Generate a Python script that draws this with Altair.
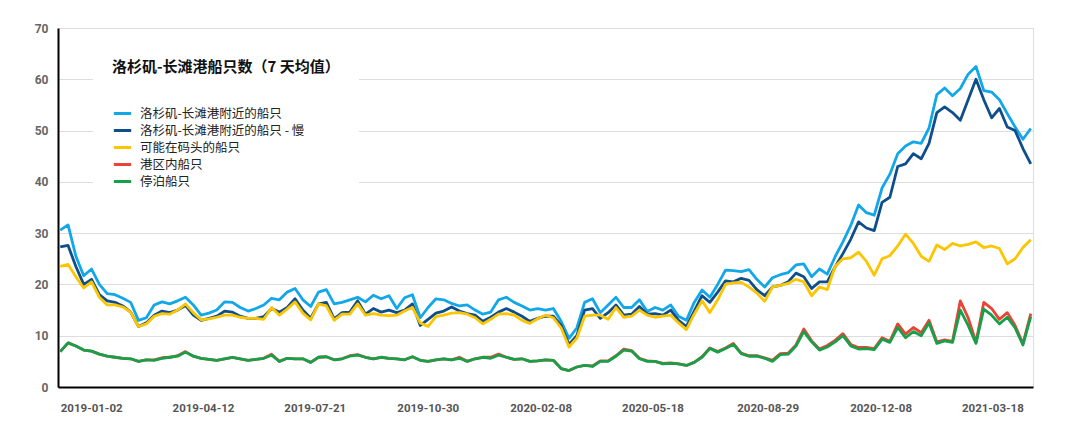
import altair as alt
import pandas as pd

# weekly samples starting 2019-01-02
start_date = "2019-01-02"
n_points = 125

series_names = [
    "洛杉矶-长滩港附近的船只",
    "洛杉矶-长滩港附近的船只 - 慢",
    "可能在码头的船只",
    "港区内船只",
    "停泊船只",
]
series_colors = ["#12a7e8", "#0e4f8b", "#fdc500", "#ea4335", "#17a04a"]

near_port = [
    30.6, 31.6, 25.5, 21.7, 23.0, 20.0, 18.2, 18.0, 17.3, 16.5,
    13.0, 13.5, 16.0, 16.6, 16.2, 16.8, 17.5, 16.0, 14.0, 14.4,
    15.0, 16.6, 16.5, 15.5, 14.8, 15.3, 16.0, 17.3, 17.0, 18.5,
    19.2, 17.0, 15.7, 18.5, 19.0, 16.2, 16.5, 17.0, 17.5, 16.6,
    17.9, 17.2, 17.8, 15.3, 17.4, 18.0, 13.5, 15.5, 17.2, 17.0,
    16.3, 15.8, 16.0, 15.0, 14.2, 14.6, 17.0, 17.5, 16.5, 15.8,
    15.0, 15.3, 15.0, 15.3, 12.8, 9.5, 11.5, 16.5, 17.2, 14.5,
    16.0, 17.5, 15.5, 15.5, 17.0, 14.7, 15.5, 15.0, 16.0, 13.8,
    13.0, 16.5, 18.9, 17.5, 20.0, 22.8, 22.7, 22.5, 22.9, 21.0,
    19.5, 21.3, 21.9, 22.3, 23.8, 24.0, 21.5, 23.0, 22.0, 25.4,
    28.3, 31.5, 35.5, 34.0, 33.5, 38.8, 41.5, 45.5, 47.0, 47.8,
    47.5, 50.5, 57.0, 58.3, 56.8, 58.2, 61.0, 62.5, 57.8, 57.5,
    56.0, 53.3, 50.7, 48.3, 50.4,
]

near_port_slow = [
    27.3, 27.6, 23.5, 20.0, 21.0, 18.0, 16.8, 16.5, 15.8, 14.6,
    11.8, 12.5, 14.0, 14.8, 14.5, 15.0, 15.9, 14.0, 13.0, 13.4,
    13.8, 14.8, 14.6, 13.8, 13.4, 13.4, 13.7, 15.3, 14.6, 15.5,
    17.2, 15.0, 13.4, 16.2, 16.5, 13.3, 14.5, 14.6, 16.8, 14.2,
    15.3, 14.6, 15.0, 14.5, 15.0, 16.2, 12.0, 13.2, 14.4, 14.8,
    15.6, 14.8, 14.3, 14.0, 12.8, 13.6, 14.6, 15.3, 14.6, 13.8,
    12.8, 13.4, 13.8, 13.8, 12.0, 8.3, 10.0, 15.0, 15.3, 13.4,
    14.5, 16.0, 14.0, 14.2, 15.7, 14.2, 14.3, 14.0, 15.0, 13.0,
    11.8, 14.8, 17.8, 16.5, 18.5, 20.7, 20.5, 21.2, 20.8, 19.0,
    17.8, 19.5, 19.8, 20.5, 22.2, 21.5, 19.2, 20.5, 20.5, 23.4,
    26.0, 28.8, 32.2, 31.0, 30.5, 36.0, 37.0, 43.0, 43.5, 45.5,
    44.5, 47.5, 53.5, 54.6, 53.5, 52.0, 56.0, 60.0, 56.0, 52.5,
    54.3, 50.7, 50.0, 46.5, 43.5,
]

at_berth = [
    23.5, 23.9, 21.5, 19.3, 20.5, 17.5, 16.0, 16.0, 15.6, 14.6,
    11.8, 12.3, 13.8, 14.3, 14.2, 15.0, 16.2, 14.5, 13.1, 13.3,
    13.6, 14.0, 14.0, 13.6, 13.4, 13.4, 13.2, 15.5, 14.0, 15.2,
    16.6, 14.4, 13.1, 16.2, 15.8, 13.0, 14.2, 14.2, 16.2, 14.0,
    14.3, 14.0, 13.9, 14.0, 14.8, 15.5, 12.5, 11.8, 13.7, 14.0,
    14.4, 14.5, 14.2, 13.5, 12.3, 13.2, 14.2, 14.3, 14.0, 13.0,
    12.4, 13.3, 14.0, 13.5, 11.5, 7.8, 9.5, 13.8, 14.0, 14.0,
    13.2, 15.5, 13.6, 13.8, 15.0, 14.0, 13.6, 13.8, 14.0, 12.5,
    11.2, 14.2, 16.8, 14.5, 17.0, 20.0, 20.3, 20.4, 19.5, 18.3,
    16.7, 19.5, 19.8, 20.2, 21.0, 20.5, 17.8, 19.5, 19.0, 23.5,
    25.0, 25.2, 26.3, 24.5, 21.8, 25.0, 25.6, 27.5, 29.8, 28.0,
    25.5, 24.5, 27.7, 26.8, 28.0, 27.5, 27.8, 28.3, 27.2, 27.5,
    27.0, 24.0, 25.0, 27.2, 28.7,
]

in_port = [
    6.9, 8.6, 8.0, 7.2, 7.0, 6.4, 6.0, 5.8, 5.6, 5.5,
    5.0, 5.3, 5.3, 5.7, 5.8, 6.1, 6.9, 6.0, 5.6, 5.4,
    5.2, 5.5, 5.8, 5.5, 5.2, 5.4, 5.6, 6.4, 5.0, 5.6,
    5.5, 5.5, 4.8, 5.8, 5.9, 5.3, 5.5, 6.1, 6.3, 5.8,
    5.5, 5.8, 5.6, 5.5, 5.3, 5.9, 5.2, 5.0, 5.3, 5.5,
    5.3, 5.8, 5.0, 5.5, 5.8, 5.8, 6.4, 5.8, 5.4, 5.5,
    5.0, 5.1, 5.3, 5.2, 3.6, 3.2, 3.9, 4.2, 4.1, 5.1,
    5.1, 6.1, 7.4, 7.1, 5.6, 5.1, 5.0, 4.6, 4.7, 4.5,
    4.2, 4.8, 5.9, 7.6, 6.9, 7.6, 8.5, 6.6, 6.1, 6.1,
    5.7, 5.2, 6.5, 6.6, 8.2, 11.3, 9.0, 7.4, 8.1, 9.1,
    10.4, 8.3, 7.7, 7.7, 7.5, 9.6, 8.9, 12.3, 10.3, 11.6,
    10.6, 13.0, 8.8, 9.2, 8.9, 16.8, 13.5, 8.7, 16.5, 15.3,
    13.2, 14.5, 12.0, 8.4, 14.3,
]

anchored = [
    6.9, 8.6, 8.0, 7.2, 7.0, 6.4, 6.0, 5.8, 5.6, 5.5,
    5.0, 5.3, 5.2, 5.6, 5.8, 6.0, 6.8, 6.0, 5.6, 5.4,
    5.2, 5.5, 5.8, 5.5, 5.2, 5.4, 5.6, 6.2, 5.0, 5.6,
    5.5, 5.5, 4.8, 5.8, 5.9, 5.3, 5.5, 6.0, 6.2, 5.8,
    5.5, 5.8, 5.6, 5.5, 5.3, 5.9, 5.2, 5.0, 5.3, 5.5,
    5.3, 5.6, 5.0, 5.5, 5.8, 5.6, 6.2, 5.8, 5.4, 5.5,
    5.0, 5.1, 5.3, 5.2, 3.6, 3.2, 3.9, 4.2, 4.0, 5.0,
    5.0, 6.0, 7.2, 7.0, 5.5, 5.0, 5.0, 4.5, 4.6, 4.5,
    4.2, 4.8, 5.8, 7.5, 6.8, 7.5, 8.3, 6.5, 6.0, 6.0,
    5.6, 5.0, 6.3, 6.4, 8.0, 10.8, 8.8, 7.2, 7.8, 8.8,
    10.0, 8.0, 7.4, 7.5, 7.3, 9.3, 8.7, 11.6, 9.6, 10.8,
    10.0, 12.5, 8.5, 9.0, 8.7, 15.0, 12.0, 8.5, 15.2, 14.0,
    12.3, 13.6, 11.5, 8.2, 13.7,
]

tick_dates = [
    (2019, 1, 2), (2019, 4, 12), (2019, 7, 21), (2019, 10, 30), (2020, 2, 8),
    (2020, 5, 18), (2020, 8, 29), (2020, 12, 8), (2021, 3, 18),
]

dates = pd.date_range(start_date, periods=n_points, freq="7D").strftime("%Y-%m-%d")
all_values = [near_port, near_port_slow, at_berth, in_port, anchored]
rows = []
for name, vals in zip(series_names, all_values):
    for d, v in zip(dates, vals):
        rows.append({"date": d, "value": v, "series": name})
df = pd.DataFrame(rows)

num_font = "Roboto"
cjk_font = "Noto Sans CJK SC"

chart = alt.Chart(df).mark_line(strokeWidth=2.8, strokeJoin="round").encode(
    x=alt.X(
        "date:T",
        scale=alt.Scale(
            type="utc",
            domain=[alt.DateTime(year=2018, month=12, date=31, utc=True),
                    alt.DateTime(year=2021, month=5, date=21, utc=True)],
        ),
        axis=alt.Axis(
            values=[alt.DateTime(year=y, month=m, date=d, utc=True) for (y, m, d) in tick_dates],
            format="%Y-%m-%d",
            labelAlign="left",
            ticks=False,
            grid=False,
            domainColor="#000000",
            domainWidth=2,
            labelPadding=15,
            labelFontSize=11.5,
            labelFontWeight="bold",
            labelColor="#555555",
            labelFont=num_font,
            labelOverlap=False,
            labelFlush=False,
            title=None,
        ),
    ),
    y=alt.Y(
        "value:Q",
        scale=alt.Scale(domain=[0, 70], nice=False),
        axis=alt.Axis(
            values=list(range(0, 71, 10)),
            ticks=False,
            domainColor="#000000",
            domainWidth=2,
            gridColor="#dddddd",
            gridWidth=1,
            labelPadding=10,
            labelFontSize=12,
            labelFontWeight="bold",
            labelColor="#666666",
            labelFont=num_font,
            title=None,
        ),
    ),
    color=alt.Color(
        "series:N",
        scale=alt.Scale(domain=series_names, range=series_colors),
        sort=series_names,
        legend=alt.Legend(
            title="洛杉矶-长滩港船只数（7 天均值）",
            orient="none",
            legendX=35,
            legendY=13,
            fillColor="white",
            padding=19,
            titleFont=cjk_font,
            titleFontSize=15,
            titleFontWeight="bold",
            titleColor="#111111",
            titlePadding=28,
            titleLimit=500,
            labelFont=cjk_font,
            labelFontSize=12.5,
            labelColor="#222222",
            labelOffset=7,
            labelLimit=500,
            symbolType="stroke",
            symbolStrokeWidth=3,
            symbolSize=300,
            rowPadding=0,
        ),
    ),
).properties(
    width=975,
    height=359,
    autosize=alt.AutoSizeParams(type="none"),
    padding={"left": 50, "top": 20, "right": 30, "bottom": 40},
).configure_view(stroke=None).configure(background="white")

chart.save("out.html", embed_options={"renderer": "svg", "actions": False})
